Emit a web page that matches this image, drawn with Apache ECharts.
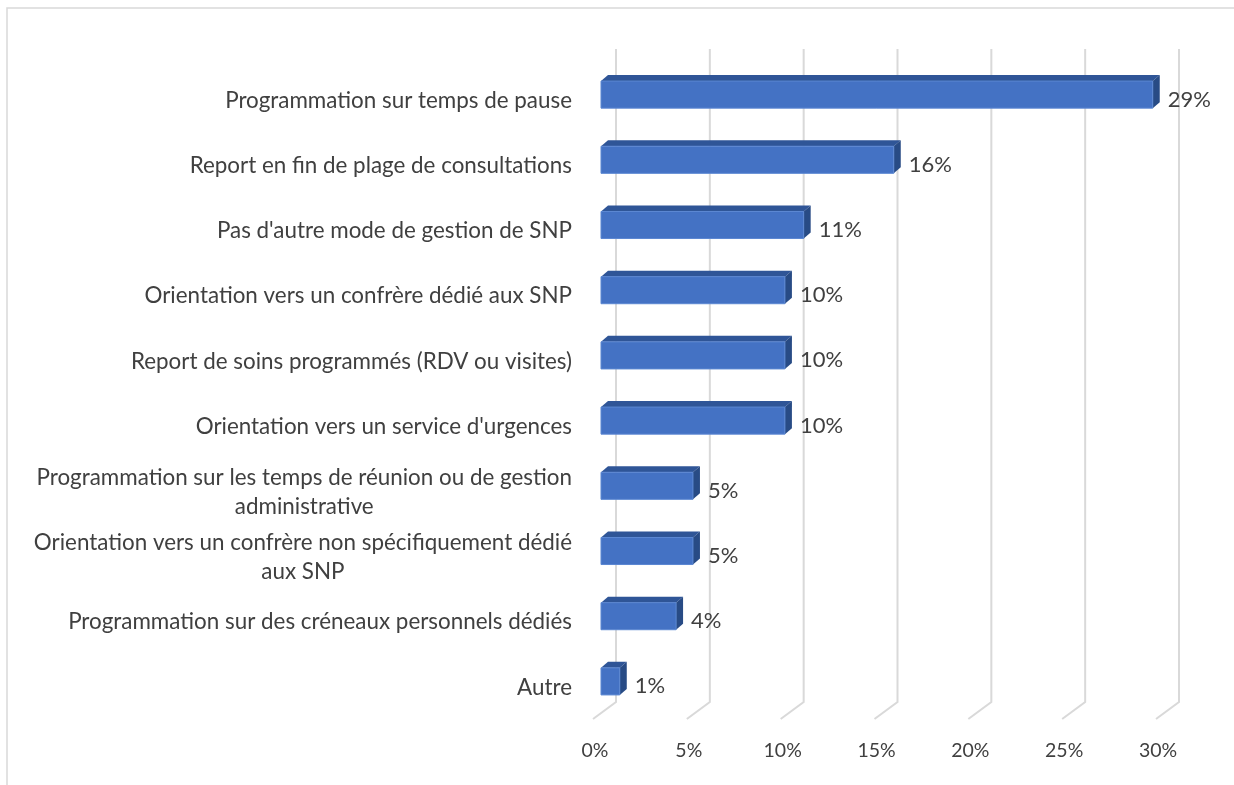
<!DOCTYPE html>
<html>
<head>
<meta charset="utf-8">
<script src="https://cdn.jsdelivr.net/npm/echarts@6/dist/echarts.min.js"></script>
<style>
  html, body { margin: 0; padding: 0; background: #fff; }
  #main { width: 1234px; height: 785px; }
</style>
</head>
<body>
<div id="main"></div>
<script>
// categories, top to bottom
const categories = [
  'Programmation sur temps de pause',
  'Report en fin de plage de consultations',
  "Pas d'autre mode de gestion de SNP",
  'Orientation vers un confrère dédié aux SNP',
  'Report de soins programmés (RDV ou visites)',
  "Orientation vers un service d'urgences",
  'Programmation sur les temps de réunion ou de gestion\nadministrative',
  'Orientation vers un confrère non spécifiquement dédié\naux SNP',
  'Programmation sur des créneaux personnels dédiés',
  'Autre'
]
const values = [29.4, 15.6, 10.8, 9.8, 9.8, 9.8, 4.9, 4.9, 4.0, 1.0]
const valueLabels = ['29%', '16%', '11%', '10%', '10%', '10%', '5%', '5%', '4%', '1%']
const xTicks = [0, 5, 10, 15, 20, 25, 30]

const FONT = 'Lato'
const TXT = '#404040'

const chart = echarts.init(document.getElementById('main'))

const option = {
  backgroundColor: '#fff',
  animation: false,
  graphic: [{
    type: 'rect',
    shape: { x: 7, y: 8, width: 1400, height: 1000 },
    style: { fill: 'none', stroke: '#d9d9d9', lineWidth: 1.5 },
    silent: true
  }],
  grid: {
    left: 595,
    right: 76,
    top: 62,
    bottom: 71
  },
  xAxis: {
    type: 'value',
    min: 0,
    max: 30,
    interval: 5,
    axisLine: { show: false },
    axisTick: { show: false },
    splitLine: { show: false },
    axisLabel: {
      margin: 27,
      fontFamily: FONT,
      fontSize: 19.5,
      color: TXT,
      formatter: v => v + '%'
    }
  },
  yAxis: {
    type: 'category',
    inverse: true,
    data: categories,
    axisLine: { show: false },
    axisTick: { show: false },
    axisLabel: {
      margin: 23,
      padding: [12, 0, 0, 0],
      fontFamily: FONT,
      fontSize: 22.4,
      color: TXT,
      lineHeight: 29,
      formatter: v => v.split('\n').map(s => '{c|' + s + '}').join('\n'),
      rich: {
        c: { align: 'center', fontFamily: FONT, fontSize: 22.4, color: TXT, lineHeight: 29 }
      }
    }
  },
  series: [
    {
      // 3D-looking gridlines: back wall + floor
      type: 'custom',
      z: 1,
      silent: true,
      data: xTicks.map(v => [v, 0]),
      renderItem: function (params, api) {
        const cs = params.coordSys
        const fx = api.coord([api.value(0), 0])[0]
        const top = cs.y - 13
        const bottom = cs.y + cs.height - 12
        return {
          type: 'polyline',
          shape: { points: [[fx + 21, top], [fx + 21, bottom], [fx - 2, bottom + 17]] },
          style: { stroke: '#d9d9d9', lineWidth: 2, fill: null }
        }
      }
    },
    {
      type: 'custom',
      z: 2,
      data: values.map((v, i) => [v, i]),
      renderItem: function (params, api) {
        const idx = api.value(1)
        const p0 = api.coord([0, idx])
        const p1 = api.coord([api.value(0), idx])
        const h = api.size([0, 1])[1] * 0.415
        const dx = 7, dy = 6
        const x0 = p0[0] + 6
        const x1 = p1[0] + 6
        const yT = p0[1] - h / 2
        const yB = p0[1] + h / 2
        return {
          type: 'group',
          children: [
            {
              type: 'polygon',
              shape: { points: [[x0, yT], [x0 + dx, yT - dy], [x1 + dx, yT - dy], [x1, yT]] },
              style: { fill: '#2f5597' }
            },
            {
              type: 'polygon',
              shape: { points: [[x1, yT], [x1 + dx, yT - dy], [x1 + dx, yB - dy], [x1, yB]] },
              style: { fill: '#284b85' }
            },
            {
              type: 'rect',
              shape: { x: x0, y: yT, width: x1 - x0, height: h },
              style: { fill: '#4472c4', stroke: '#5b87d2', lineWidth: 1 }
            },
            {
              type: 'text',
              x: x1 + dx + 8,
              y: p0[1] + 5,
              style: {
                text: valueLabels[params.dataIndex],
                fontFamily: FONT,
                fontSize: 22,
                fill: TXT,
                align: 'left',
                verticalAlign: 'middle'
              }
            }
          ]
        }
      }
    }
  ]
}

chart.setOption(option)
</script>
</body>
</html>
